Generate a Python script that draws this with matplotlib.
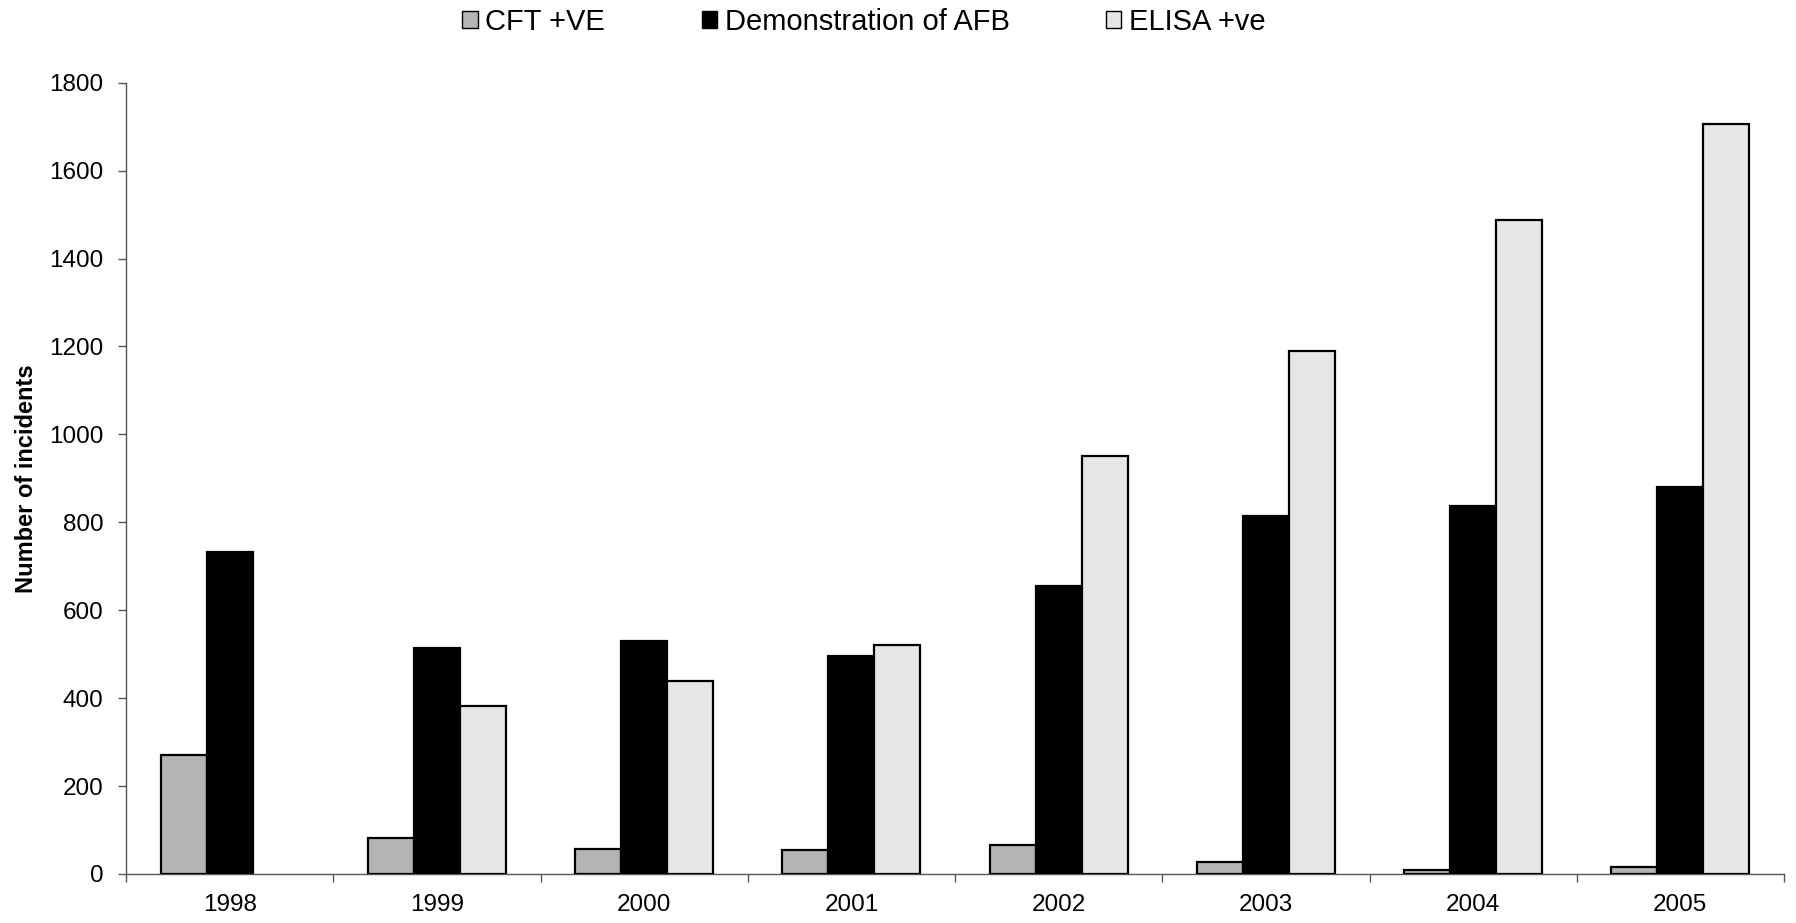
import matplotlib
matplotlib.use("Agg")
import matplotlib.pyplot as plt
from matplotlib.patches import Patch
import numpy as np

years = ["1998", "1999", "2000", "2001", "2002", "2003", "2004", "2005"]
cft_pos = [270, 81, 57, 55, 65, 27, 8, 16]
afb_demo = [732, 515, 529, 497, 654, 815, 836, 880]
elisa_pos = [0, 383, 438, 522, 950, 1190, 1487, 1707]
series_names = ["CFT +VE", "Demonstration of AFB", "ELISA +ve"]
yticks = [0, 200, 400, 600, 800, 1000, 1200, 1400, 1600, 1800]

plt.rcParams['font.family'] = ['Liberation Sans', 'DejaVu Sans']

fig = plt.figure(figsize=(17.96, 9.23), dpi=100)
ax = fig.add_axes([126/1796, 1 - 874/923, (1784 - 126)/1796, (874 - 82.7)/923])

x = np.arange(len(years))
w = 1 / 4.5
colors = ["#b4b4b4", "#000000", "#e6e6e6"]
data = [cft_pos, afb_demo, elisa_pos]
for i, (vals, c, name) in enumerate(zip(data, colors, series_names)):
    vals_arr = np.array(vals, dtype=float)
    b = ax.bar(x + (i - 1) * w, vals_arr, width=w, color=c, edgecolor="black",
               linewidth=1.6, label=name, zorder=3)
    for rect, v in zip(b, vals_arr):
        if v == 0:
            rect.set_visible(False)

ax.set_xlim(-0.5, len(years) - 0.5)
ax.set_ylim(0, 1800)
ax.set_yticks(yticks)
ax.set_xticks(x)
ax.set_xticklabels(years)
ax.set_xticks(np.arange(-0.5, len(years), 1.0), minor=True)

for s in ["top", "right"]:
    ax.spines[s].set_visible(False)
for s in ["left", "bottom"]:
    ax.spines[s].set_color("#555555")
    ax.spines[s].set_linewidth(1.0)

ax.tick_params(axis="x", which="major", length=0, pad=14.5, labelsize=17.5)
ax.tick_params(axis="x", which="minor", length=5.8, width=1, color="#555555", direction="out")
ax.tick_params(axis="y", which="major", length=5.8, width=1, color="#555555", pad=10.5, labelsize=17.5)

ax.set_ylabel("Number of incidents", fontsize=17, fontweight="bold")
ax.yaxis.set_label_coords(-0.053, 0.5)

handles = [Patch(facecolor=c, edgecolor="black", linewidth=1.0) for c in colors]
fig.legend(handles=handles, labels=series_names, loc="center",
           bbox_to_anchor=(0.481, 1 - 22/923), ncol=3, frameon=False,
           fontsize=21, handlelength=0.52, handleheight=0.52,
           handletextpad=0.27, columnspacing=3.3)

fig.savefig("out.png", dpi=100)
